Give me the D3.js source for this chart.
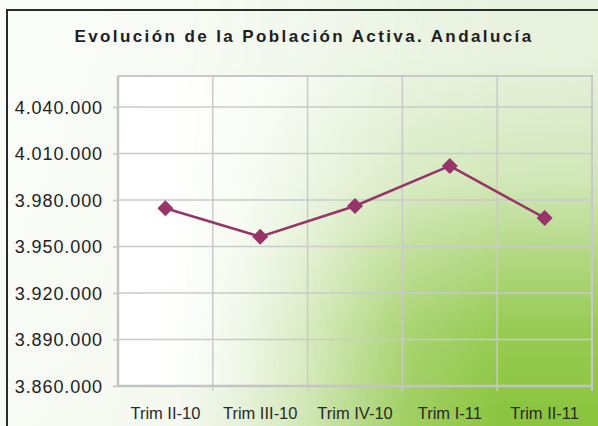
<!DOCTYPE html>
<html>
<head>
<meta charset="utf-8">
<script src="https://cdn.jsdelivr.net/npm/d3@7"></script>
<style>
  html, body { margin: 0; padding: 0; background: #fff; }
  svg { display: block; }
</style>
</head>
<body>
<svg id="chart" width="598" height="426"></svg>
<script>
// Quarterly labour-force figures for Andalucía
const categories = ["Trim II-10", "Trim III-10", "Trim IV-10", "Trim I-11", "Trim II-11"];
const values = [3974600, 3956300, 3976100, 4002000, 3968400];
const yTicks = [3860000, 3890000, 3920000, 3950000, 3980000, 4010000, 4040000];
const title = "Evolución de la Población Activa. Andalucía";

const W = 598, H = 426;
const plot = { left: 118, top: 76, right: 592, bottom: 386 };
const FONT = "Liberation Sans, Arial, sans-serif";

const svg = d3.select("#chart");
const defs = svg.append("defs");

// Pale base tint, white at the top-left
const lg = defs.append("linearGradient")
  .attr("id", "base").attr("x1", 0).attr("y1", 0).attr("x2", 1).attr("y2", 0.3);
lg.append("stop").attr("offset", 0).attr("stop-color", "#fbfdf9");
lg.append("stop").attr("offset", 1).attr("stop-color", "#eef5e9");
svg.append("rect").attr("width", W).attr("height", H).attr("fill", "url(#base)");

// Plot area starts out white on the left
const pf = defs.append("linearGradient")
  .attr("id", "plotFade").attr("gradientUnits", "userSpaceOnUse")
  .attr("x1", plot.left).attr("y1", 0).attr("x2", 420).attr("y2", 0);
pf.append("stop").attr("offset", 0).attr("stop-color", "#fff").attr("stop-opacity", 1);
pf.append("stop").attr("offset", 0.4).attr("stop-color", "#fff").attr("stop-opacity", 0.8);
pf.append("stop").attr("offset", 1).attr("stop-color", "#fff").attr("stop-opacity", 0);
svg.append("rect")
  .attr("x", plot.left).attr("y", plot.top)
  .attr("width", plot.right - plot.left).attr("height", plot.bottom - plot.top)
  .attr("fill", "url(#plotFade)");

// Green wash: horizontal ramp, faded out towards the top by a vertical mask
const hg = defs.append("linearGradient")
  .attr("id", "greenH").attr("gradientUnits", "userSpaceOnUse")
  .attr("x1", 180).attr("y1", 0).attr("x2", 500).attr("y2", 0);
[[0, 0], [0.2, 0.12], [0.38, 0.3], [0.55, 0.55], [0.72, 0.8], [1, 1]]
  .forEach(([o, a]) => hg.append("stop").attr("offset", o)
    .attr("stop-color", "#8bc53f").attr("stop-opacity", a));

const vg = defs.append("linearGradient")
  .attr("id", "maskV").attr("gradientUnits", "userSpaceOnUse")
  .attr("x1", 0).attr("y1", 60).attr("x2", 0).attr("y2", 410);
[[0, 0.08], [0.35, 0.3], [0.57, 0.62], [0.77, 0.88], [1, 1]]
  .forEach(([o, a]) => vg.append("stop").attr("offset", o)
    .attr("stop-color", "#fff").attr("stop-opacity", a));
defs.append("mask").attr("id", "fadeMask")
  .attr("maskUnits", "userSpaceOnUse").attr("x", 0).attr("y", 0).attr("width", W).attr("height", H)
  .append("rect").attr("width", W).attr("height", H).attr("fill", "url(#maskV)");

svg.append("rect").attr("width", W).attr("height", H)
  .attr("fill", "url(#greenH)").attr("mask", "url(#fadeMask)");

// Outer frame
svg.append("path")
  .attr("d", `M7,${H + 5} L7,10 L${W + 5},10`)
  .attr("fill", "none").attr("stroke", "#2b2b2b").attr("stroke-width", 2);

// Title
svg.append("text")
  .attr("x", 304).attr("y", 42)
  .attr("text-anchor", "middle")
  .attr("font-family", FONT)
  .attr("font-size", 17).attr("font-weight", "bold")
  .attr("letter-spacing", 2.4)
  .attr("fill", "#1e1e1e")
  .text(title);

// Scales
const x = d3.scaleBand().domain(categories).range([plot.left, plot.right]);
const y = d3.scaleLinear().domain([3860000, 4060000]).range([plot.bottom, plot.top]);

const fmt = v => d3.format(",")(v).replace(/,/g, ".");

// Horizontal gridlines
svg.append("g").selectAll("line").data(yTicks.slice(1)).join("line")
  .attr("x1", plot.left).attr("x2", plot.right)
  .attr("y1", d => y(d)).attr("y2", d => y(d))
  .attr("stroke", "#cacaca").attr("stroke-width", 1.5);

// Vertical gridlines at category boundaries
const bounds = categories.slice(1).map(c => x(c));
svg.append("g").selectAll("line").data(bounds).join("line")
  .attr("x1", d => d).attr("x2", d => d)
  .attr("y1", plot.top).attr("y2", plot.bottom + 5)
  .attr("stroke", "#cacaca").attr("stroke-width", 1.5);

// Plot border (top/right)
svg.append("path")
  .attr("d", `M${plot.left},${plot.top} L${plot.right},${plot.top} L${plot.right},${plot.bottom + 5}`)
  .attr("fill", "none").attr("stroke", "#c8c8c8").attr("stroke-width", 2);

// Y axis
const yAxis = svg.append("g")
  .attr("transform", `translate(${plot.left},0)`)
  .call(d3.axisLeft(y).tickValues(yTicks).tickFormat(fmt).tickSize(5).tickPadding(10));
yAxis.select(".domain").attr("stroke", "#c4c4c4").attr("stroke-width", 2.5)
  .attr("d", `M0,${plot.top}V${plot.bottom}`);
yAxis.selectAll(".tick line").attr("stroke", "#c4c4c4").attr("stroke-width", 1.5);
yAxis.selectAll(".tick text")
  .attr("font-family", FONT)
  .attr("font-size", 18).attr("letter-spacing", 0.9)
  .attr("fill", "#222").attr("dy", "0.36em");

// X axis
const xAxis = svg.append("g")
  .attr("transform", `translate(0,${plot.bottom})`)
  .call(d3.axisBottom(x).tickSize(0).tickPadding(21));
xAxis.select(".domain").attr("stroke", "#c4c4c4").attr("stroke-width", 2.5)
  .attr("d", `M${plot.left},0H${plot.right}`);
xAxis.selectAll(".tick text")
  .attr("font-family", FONT)
  .attr("font-size", 16.5)
  .attr("fill", "#2a2a2a");

// Series line
const cx = d => x(d) + x.bandwidth() / 2;
const pts = categories.map((c, i) => [cx(c), y(values[i])]);
svg.append("path")
  .attr("d", d3.line()(pts))
  .attr("fill", "none").attr("stroke", "#973468").attr("stroke-width", 2.6);

// Diamond markers
svg.append("g").selectAll("path").data(pts).join("path")
  .attr("transform", d => `translate(${d[0]},${d[1]})`)
  .attr("d", "M0,-8L8,0L0,8L-8,0Z")
  .attr("fill", "#973468");
</script>
</body>
</html>
